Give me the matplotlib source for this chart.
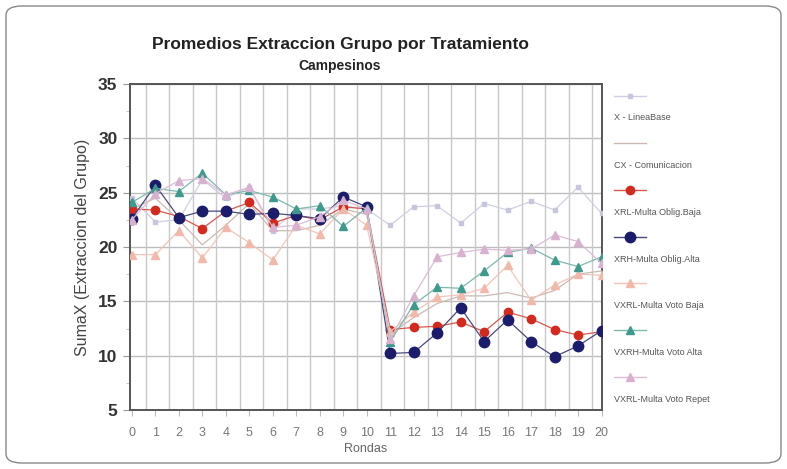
import matplotlib
matplotlib.use("Agg")
import matplotlib.pyplot as plt
from matplotlib.patches import FancyBboxPatch
from matplotlib.lines import Line2D

plt.rcParams['font.family'] = ['Liberation Sans', 'DejaVu Sans']

rondas = list(range(21))
linea_base = [24.5, 22.3, 22.5, 26.2, 24.5, 25.5, 21.5, 23.5, 23.5, 23.8, 23.5,
              22.0, 23.7, 23.8, 22.2, 24.0, 23.4, 24.2, 23.4, 25.5, 23.1]
comunicacion = [23.5, 24.5, 22.5, 20.2, 22.0, 24.0, 21.5, 21.5, 22.0, 23.5, 23.0,
                12.0, 13.5, 14.8, 15.5, 15.5, 15.8, 15.3, 16.0, 17.5, 17.8]
oblig_baja = [23.5, 23.4, 22.8, 21.7, 23.3, 24.1, 22.2, 22.9, 22.5, 23.7, 23.5,
              12.4, 12.6, 12.7, 13.1, 12.2, 14.0, 13.4, 12.4, 11.9, 12.2]
oblig_alta = [22.6, 25.7, 22.7, 23.3, 23.3, 23.0, 23.1, 22.9, 22.6, 24.6, 23.7,
              10.2, 10.3, 12.1, 14.4, 11.3, 13.3, 11.3, 9.9, 10.9, 12.3]
voto_baja = [19.3, 19.3, 21.5, 19.0, 21.8, 20.4, 18.8, 22.0, 21.2, 23.5, 22.0,
             12.2, 14.0, 15.4, 15.6, 16.2, 18.3, 15.1, 16.5, 17.5, 17.4]
voto_alta = [24.1, 25.4, 25.1, 26.8, 24.8, 25.2, 24.6, 23.5, 23.8, 21.9, 23.6,
             11.3, 14.7, 16.3, 16.2, 17.8, 19.5, 19.9, 18.8, 18.2, 19.1]
voto_repet = [22.5, 24.9, 26.1, 26.3, 24.8, 25.5, 21.8, 22.0, 22.8, 24.3, 23.5,
              11.5, 15.5, 19.1, 19.5, 19.8, 19.7, 19.8, 21.1, 20.5, 18.5]

labels = ["X - LineaBase", "CX - Comunicacion", "XRL-Multa Oblig.Baja",
          "XRH-Multa Oblig.Alta", "VXRL-Multa Voto Baja", "VXRH-Multa Voto Alta",
          "VXRL-Multa Voto Repet"]
y_ticks = [5, 10, 15, 20, 25, 30, 35]

W, H = 787, 469
fig = plt.figure(figsize=(W / 100, H / 100), dpi=100)

# rounded outer border
fig.patches.append(FancyBboxPatch((6 / W, 6 / H), (W - 12) / W, (H - 12) / H,
                                  boxstyle="round,pad=0,rounding_size=0.02",
                                  transform=fig.transFigure, fill=False,
                                  edgecolor="#888888", linewidth=1.0))

ax = fig.add_axes([130 / W, 1 - 410 / H, (602 - 130) / W, (410 - 84) / H])
ax.set_xlim(-0.08, 20.02)
ax.set_ylim(5, 35)

styles = [
    dict(color="#c6c6de", line="#cfcfe2", marker="s", ms=3.0, lw=0.9),
    dict(color="#cbbab2", line="#cbbab2", marker=None, ms=0, lw=0.9),
    dict(color="#d42a1e", line="#d8584e", marker="o", ms=6, lw=0.9),
    dict(color="#1c1c6c", line="#4a4a7a", marker="o", ms=7.5, lw=0.9),
    dict(color="#f2b8aa", line="#f2c4b8", marker="^", ms=5.5, lw=0.9),
    dict(color="#3e9a8c", line="#7cb8ae", marker="^", ms=6, lw=0.9),
    dict(color="#d8b0d0", line="#dcbcd6", marker="^", ms=5.5, lw=0.9),
]
series = [linea_base, comunicacion, oblig_baja, oblig_alta, voto_baja, voto_alta, voto_repet]
order = [1, 0, 4, 6, 5, 2, 3]
for i in order:
    st = styles[i]
    ax.plot(rondas, series[i], color=st["line"], lw=st["lw"], marker=st["marker"],
            ms=st["ms"], markerfacecolor=st["color"], markeredgecolor=st["color"],
            zorder=3 + i)

# grid
for v in y_ticks:
    ax.axhline(v, color="#bdbdbd", lw=1.0, zorder=1)
for i in range(20):
    ax.axvline(i + 0.6, color="#c8c8c8", lw=1.0, zorder=1)

ax.set_yticks(y_ticks)
ax.set_yticklabels([str(v) for v in y_ticks], fontsize=12.5, color="#333333",
                   fontweight="bold")
ax.set_yticks([7.5, 12.5, 17.5, 22.5, 27.5, 32.5], minor=True)
ax.set_xticks(rondas)
ax.set_xticklabels([str(v) for v in rondas], fontsize=9, color="#777777")
ax.tick_params(axis="y", length=5, color="#999999", pad=4)
ax.tick_params(axis="y", which="minor", length=3, color="#bbbbbb")
ax.tick_params(axis="x", length=4, color="#bbbbbb", pad=8)
for s in ["left", "top", "right", "bottom"]:
    ax.spines[s].set_color("#555555")
    ax.spines[s].set_linewidth(1.4)

ax.set_xlabel("Rondas", fontsize=9, color="#666666", labelpad=3)
ax.set_ylabel("SumaX (Extraccion del Grupo)", fontsize=11.5, color="#444444", labelpad=6)

fig.text(340 / W, 1 - 45 / H, "Promedios Extraccion Grupo por Tratamiento",
         ha="center", va="center", fontsize=12.5, fontweight="bold", color="#222222")
fig.text(340 / W, 1 - 66 / H, "Campesinos", ha="center", va="center",
         fontsize=10, fontweight="bold", color="#222222")

# legend (Excel-like: sample above, label below)
sample_y = [96, 143, 190, 237, 283, 330, 377]
for i, lab in enumerate(labels):
    st = styles[i]
    yy = 1 - sample_y[i] / H
    fig.add_artist(Line2D([614 / W, 646 / W], [yy, yy], transform=fig.transFigure,
                          color=st["line"], lw=1.0))
    if st["marker"]:
        fig.add_artist(Line2D([630 / W], [yy], transform=fig.transFigure,
                              color=st["color"], marker=st["marker"], ms=st["ms"],
                              markeredgecolor=st["color"], lw=0))
    fig.text(614 / W, 1 - (sample_y[i] + 22) / H, lab, ha="left", va="center",
             fontsize=6.5, color="#555555")

fig.savefig("out.png", dpi=100)
